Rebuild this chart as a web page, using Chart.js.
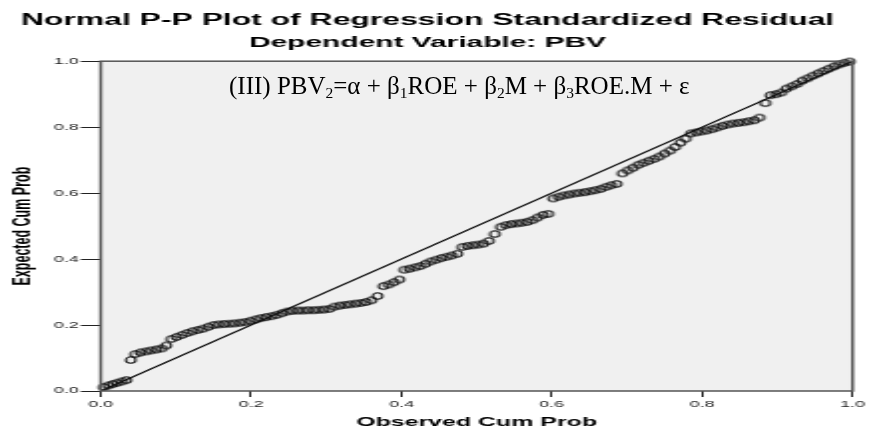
<!DOCTYPE html>
<html>
<head>
<meta charset="utf-8">
<script src="https://cdn.jsdelivr.net/npm/chart.js@4.4.1/dist/chart.umd.min.js"></script>
<style>
  html, body { margin: 0; padding: 0; background: #fff; }
  body { width: 869px; height: 430px; position: relative; overflow: hidden; }
  /* the source picture is stretched sideways, so the chart is drawn narrow and widened */
  #wrap { position: absolute; left: 0; top: 0; width: 436px; height: 430px; transform: scaleX(1.9931); transform-origin: 0 0; }
  #eq { position: absolute; left: 229px; top: 72px; font-family: 'Liberation Serif', 'Times New Roman', serif; font-size: 25px; color: #000; white-space: nowrap; }
  #eq sub { font-size: 15.5px; vertical-align: -4px; line-height: 0; }
</style>
</head>
<body>
<div id="wrap"><canvas id="chart"></canvas></div>
<div id="eq">(III) PBV<sub>2</sub>=α + β<sub>1</sub>ROE + β<sub>2</sub>M + β<sub>3</sub>ROE.M + ε</div>
<script>
const titleText = 'Normal P-P Plot of Regression Standardized Residual';
const subtitleText = 'Dependent Variable: PBV';
const xLabel = 'Observed Cum Prob';
const yLabel = 'Expected Cum Prob';

const observedCum = [
  0.004, 0.010, 0.016, 0.022, 0.028, 0.034,
  0.040, 0.046, 0.053, 0.060, 0.067, 0.074, 0.081, 0.087,
  0.094, 0.101, 0.108, 0.115, 0.122, 0.129, 0.136, 0.143,
  0.150, 0.157, 0.164, 0.171, 0.178, 0.185, 0.192, 0.199,
  0.206, 0.213, 0.220, 0.227, 0.234, 0.241,
  0.248, 0.255, 0.262, 0.269, 0.276, 0.283, 0.290, 0.297, 0.304,
  0.311, 0.318, 0.325, 0.332, 0.339, 0.346, 0.353, 0.360, 0.368,
  0.376, 0.383, 0.390, 0.397,
  0.404, 0.411, 0.418, 0.425, 0.432, 0.439, 0.446, 0.453, 0.460, 0.467, 0.474,
  0.481, 0.488, 0.495, 0.502, 0.509, 0.516, 0.524,
  0.532, 0.539, 0.546, 0.553, 0.560, 0.567, 0.574, 0.581, 0.588, 0.595,
  0.602, 0.609, 0.616, 0.623, 0.630, 0.637, 0.644, 0.651, 0.658, 0.665, 0.672, 0.679, 0.686,
  0.694, 0.701, 0.708, 0.715, 0.722, 0.729, 0.736, 0.743, 0.750, 0.757, 0.764, 0.771, 0.778,
  0.785, 0.792, 0.799, 0.806, 0.813, 0.820, 0.827, 0.834, 0.841, 0.848, 0.855, 0.862, 0.869, 0.876,
  0.884, 0.891, 0.898, 0.905, 0.912, 0.919, 0.926,
  0.933, 0.940, 0.947, 0.954, 0.961, 0.968, 0.975, 0.982, 0.989, 0.996
];
const expectedCum = [
  0.012, 0.017, 0.021, 0.025, 0.029, 0.033,
  0.094, 0.112, 0.117, 0.120, 0.123, 0.126, 0.129, 0.138,
  0.158, 0.164, 0.170, 0.176, 0.181, 0.185, 0.189, 0.195,
  0.200, 0.202, 0.203, 0.204, 0.205, 0.207, 0.209, 0.213,
  0.217, 0.221, 0.224, 0.227, 0.231, 0.236,
  0.241, 0.243, 0.244, 0.244, 0.245, 0.245, 0.246, 0.247, 0.249,
  0.256, 0.259, 0.261, 0.263, 0.265, 0.267, 0.270, 0.275, 0.288,
  0.318, 0.323, 0.330, 0.338,
  0.368, 0.371, 0.375, 0.379, 0.386, 0.393, 0.398, 0.403, 0.407, 0.411, 0.416,
  0.437, 0.440, 0.442, 0.444, 0.447, 0.455, 0.476,
  0.498, 0.503, 0.506, 0.508, 0.510, 0.513, 0.518, 0.526, 0.534, 0.537,
  0.584, 0.589, 0.593, 0.596, 0.599, 0.601, 0.603, 0.606, 0.609, 0.613, 0.619, 0.624, 0.628,
  0.660, 0.669, 0.677, 0.686, 0.692, 0.698, 0.704, 0.711, 0.720, 0.729, 0.740, 0.753, 0.765,
  0.781, 0.784, 0.787, 0.790, 0.794, 0.799, 0.804, 0.808, 0.811, 0.813, 0.815, 0.818, 0.821, 0.829,
  0.873, 0.897, 0.900, 0.905, 0.917, 0.924, 0.931,
  0.941, 0.948, 0.956, 0.963, 0.970, 0.977, 0.984, 0.990, 0.995, 0.999
];
const refLine = [0, 1];
const tickValues = [0, 0.2, 0.4, 0.6, 0.8, 1.0];

Chart.defaults.font.family = "'Liberation Sans', Arial, sans-serif";

// small open oval used as the point marker
const dot = document.createElement('canvas');
dot.width = 9;
dot.height = 10;
const dctx = dot.getContext('2d');
dctx.strokeStyle = '#111';
dctx.lineWidth = 1.1;
dctx.beginPath();
dctx.ellipse(4.5, 5, 2.4, 3.2, 0, 0, Math.PI * 2);
dctx.stroke();

const framePlugin = {
  id: 'frame',
  beforeDraw(chart) {
    const a = chart.chartArea;
    const c = chart.ctx;
    c.save();
    c.fillStyle = '#f0f0f0';
    c.fillRect(a.left, a.top, a.right - a.left, a.bottom - a.top);
    c.restore();
  },
  afterDraw(chart) {
    const a = chart.chartArea;
    const c = chart.ctx;
    c.save();
    c.strokeStyle = '#555';
    c.lineWidth = 1.5;
    c.strokeRect(a.left, a.top, a.right - a.left, a.bottom - a.top);
    c.restore();
  }
};

const tickFont = { size: 9 };
const axisTitleFont = { size: 12.5, weight: 'bold' };

new Chart(document.getElementById('chart').getContext('2d'), {
  data: {
    datasets: [
      {
        type: 'line',
        data: refLine.map(v => ({ x: v, y: v })),
        borderColor: '#111',
        borderWidth: 1.2,
        pointRadius: 0
      },
      {
        type: 'scatter',
        data: observedCum.map((x, i) => ({ x, y: expectedCum[i] })),
        pointStyle: dot,
        pointRadius: 3,
        clip: false
      }
    ]
  },
  options: {
    responsive: true,
    maintainAspectRatio: false,
    animation: false,
    layout: { padding: { right: 7 } },
    plugins: {
      legend: { display: false },
      tooltip: { enabled: false },
      title: {
        display: true,
        text: titleText,
        color: '#000',
        font: { size: 16, weight: 'bold' },
        padding: { top: 11, bottom: 4 }
      },
      subtitle: {
        display: true,
        text: subtitleText,
        color: '#000',
        font: { size: 15, weight: 'bold' },
        padding: { top: 0, bottom: 9 }
      }
    },
    scales: {
      x: {
        type: 'linear',
        min: 0,
        max: 1,
        afterBuildTicks: s => { s.ticks = tickValues.map(v => ({ value: v })); },
        afterFit: s => { s.height = 39; },
        ticks: { font: tickFont, color: '#222', padding: 2, maxRotation: 0, callback: v => v.toFixed(1) },
        grid: { drawOnChartArea: false, tickLength: 6, color: '#222' },
        border: { display: false },
        title: { display: true, text: xLabel, color: '#000', font: axisTitleFont, padding: { top: 4, bottom: 0 } }
      },
      y: {
        type: 'linear',
        min: 0,
        max: 1,
        afterBuildTicks: s => { s.ticks = tickValues.map(v => ({ value: v })); },
        afterFit: s => { s.width = 50.5; },
        ticks: { font: tickFont, color: '#222', padding: 1, callback: v => v.toFixed(1) },
        grid: { drawOnChartArea: false, tickLength: 10, color: '#222' },
        border: { display: false },
        title: { display: true, text: yLabel, color: '#000', font: axisTitleFont, padding: { top: 4, bottom: 2 } }
      }
    }
  },
  plugins: [framePlugin]
});
</script>
</body>
</html>
